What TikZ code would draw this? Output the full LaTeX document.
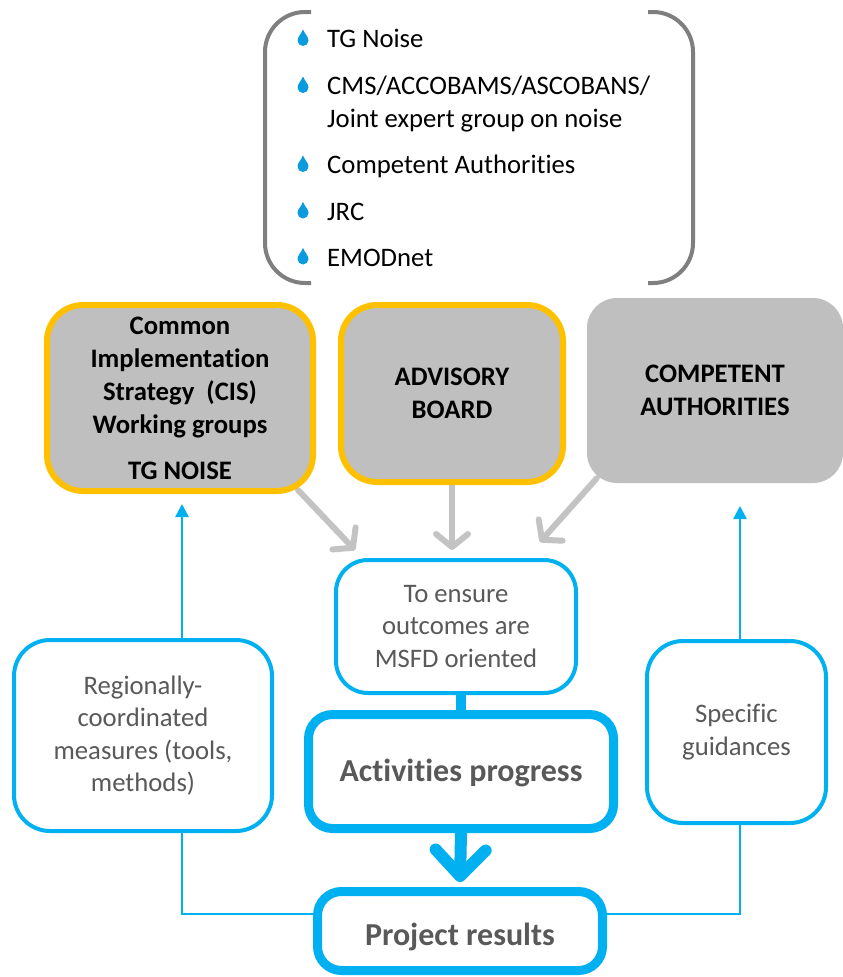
\documentclass[tikz,border=0pt]{standalone}
\usepackage{fontspec}
\setmainfont{Carlito}[Ligatures=CommonOff]
\usetikzlibrary{arrows.meta}
\definecolor{obl}{HTML}{00B0F0}
\definecolor{oor}{HTML}{FFC000}
\definecolor{gfill}{HTML}{BFBFBF}
\definecolor{garrow}{HTML}{C3C3C3}
\definecolor{brk}{HTML}{7F7F7F}
\definecolor{drp}{HTML}{0A9BDF}
\definecolor{txg}{HTML}{595959}
\pgfdeclarelayer{bg}
\pgfsetlayers{bg,main}
\begin{document}
\begin{tikzpicture}[x=1pt,y=-1pt,
  every node/.style={inner sep=0pt},
  listtxt/.style={anchor=base west, font=\fontsize{26.7}{32.5}\selectfont, text=black},
  orbox/.style={draw=oor, line width=6pt, fill=gfill, rounded corners=36pt, align=center,
    font=\bfseries\fontsize{26.7}{33}\selectfont, text=black},
  plainbox/.style={fill=gfill, rounded corners=30pt, align=center,
    font=\bfseries\fontsize{26.7}{33}\selectfont, text=black},
  thinbox/.style={draw=obl, line width=4pt, fill=white, rounded corners=32pt, align=center,
    text=txg, font=\fontsize{26.7}{32.5}\selectfont},
  thickbox/.style={draw=obl, line width=9pt, fill=white, rounded corners=24pt, align=center,
    text=txg, font=\bfseries\fontsize{32}{38}\selectfont},
  grayarr/.style={draw=garrow, line width=6pt, line cap=round,
    -{Straight Barb[length=13pt,width=32pt,round]}},
  bigarr/.style={draw=obl, line width=12pt,
    -{Straight Barb[length=26pt,width=50pt,round]}},
  thinarr/.style={draw=obl, line width=2.5pt, -{Triangle[length=13pt,width=13pt]}},
  thinline/.style={draw=obl, line width=2.5pt},
  bracketline/.style={draw=brk, line width=4pt, rounded corners=40pt},
  dropicon/.pic={\fill[drp] (0,-11) .. controls (1.5,-7) and (5.5,-3.5) .. (5.5,0)
      arc[start angle=0,end angle=180,radius=5.5] .. controls (-5.5,-3.5) and (-1.5,-7) .. cycle;}
]
\useasboundingbox (0,0) rectangle (843,977);

% bracket list
\draw[bracketline] (311,12) -- (265,12) -- (265,283) -- (311,283);
\draw[bracketline] (648,12) -- (693,12) -- (693,283) -- (648,283);

\pic at (303,40.5) {dropicon};
\node[listtxt] (l1) at (327,47.5) {TG Noise};
\pic at (303,87.5) {dropicon};
\node[listtxt] (l2) at (327,94.5) {CMS/ACCOBAMS/ASCOBANS/};
\node[listtxt] (l2b) at (327,127) {Joint expert group on noise};
\pic at (303,166.5) {dropicon};
\node[listtxt] (l3) at (327,173.5) {Competent Authorities};
\pic at (303,213) {dropicon};
\node[listtxt] (l4) at (327,220) {JRC};
\pic at (303,259) {dropicon};
\node[listtxt] (l5) at (327,266) {EMODnet};

% top boxes
\node[orbox, minimum width=266pt, minimum height=186pt] (cis) at (180,398)
  {Common\\Implementation\\Strategy \ (CIS)\\Working groups\\[13pt]TG NOISE};
\node[orbox, minimum width=222pt, minimum height=177pt] (adv) at (452,393.5)
  {ADVISORY\\BOARD};
\node[plainbox, minimum width=256pt, minimum height=185pt] (comp) at (715,390.5)
  {COMPETENT\\AUTHORITIES};

% blue boxes
\node[thinbox, minimum width=240pt, minimum height=133pt] (ens) at (456,626.5)
  {To ensure\\outcomes are\\MSFD oriented};
\node[thickbox, minimum width=305pt, minimum height=114pt] (act) at (461,771.5)
  {\raisebox{-10pt}[0pt][0pt]{Activities progress}};
\node[thickbox, minimum width=285pt, minimum height=79pt] (res) at (460,931)
  {\raisebox{-14pt}[0pt][0pt]{Project results}};
\node[thinbox, minimum width=258pt, minimum height=191pt, rounded corners=36pt] (reg) at (143,735.5)
  {Regionally-\\coordinated\\measures (tools,\\methods)};
\node[thinbox, minimum width=179pt, minimum height=182pt, rounded corners=36pt] (spec) at (736.5,732)
  {Specific\\guidances};

\coordinate (tipL) at (182,504);
\coordinate (tipR) at (740,506);

\begin{pgfonlayer}{bg}
  \draw[grayarr] ([xshift=-18pt,yshift=4pt]cis.south east) -- ([xshift=21pt,yshift=8pt]ens.north west);
  \draw[grayarr] (adv.south) -- ([yshift=8pt]adv.south |- ens.north);
  \draw[grayarr] ([xshift=10pt,yshift=5pt]comp.south west) -- ([xshift=-38pt,yshift=16pt]ens.north east);
  \draw[draw=obl, line width=10pt] (ens.south -| act.north) -- (act.north);
  \draw[bigarr] (act.south) -- ([yshift=5pt]res.north);
  \draw[thinline] ([yshift=17pt]res.west) -| (reg.south -| tipL);
  \draw[thinarr] (reg.north -| tipL) -- (tipL);
  \draw[thinline] ([yshift=17pt]res.east) -| (spec.south -| tipR);
  \draw[thinarr] (spec.north -| tipR) -- (tipR);
\end{pgfonlayer}
\end{tikzpicture}
\end{document}
